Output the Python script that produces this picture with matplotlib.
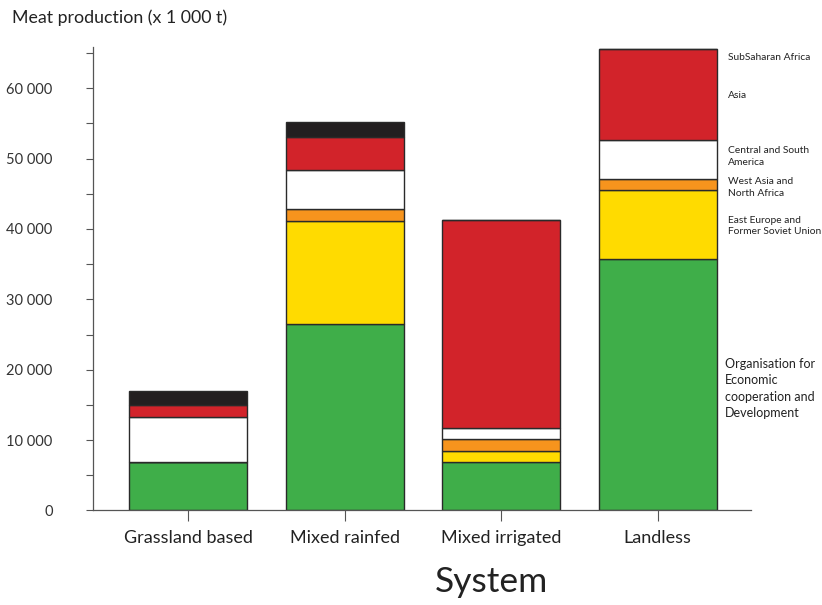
import matplotlib
matplotlib.use("Agg")
import matplotlib.pyplot as plt
import numpy as np
from matplotlib.ticker import FuncFormatter, MultipleLocator

plt.rcParams['font.family'] = ['Lato', 'DejaVu Sans']

# Meat production (x 1 000 t) per system and region
systems = ["Grassland based", "Mixed rainfed", "Mixed irrigated", "Landless"]
oecd = [6850, 26550, 6940, 35740]
east_europe = [0, 14640, 1560, 9770]
west_asia = [0, 1660, 1660, 1560]
central_south_am = [6400, 5500, 1570, 5550]
asia = [1700, 4690, 29560, 12970]
subsaharan = [2030, 2220, 0, 0]

series = [oecd, east_europe, west_asia, central_south_am, asia, subsaharan]
colors = ["#3fae49", "#ffdb00", "#f7941d", "#ffffff", "#d2232a", "#231f20"]

# region labels on the right, with their vertical position (data units)
region_labels = ["Organisation for\nEconomic\ncooperation and\nDevelopment",
                 "East Europe and\nFormer Soviet Union",
                 "West Asia and\nNorth Africa",
                 "Central and South\nAmerica",
                 "Asia",
                 "SubSaharan Africa"]
label_y = [17300, 40400, 45900, 50300, 58900, 64300]

fig = plt.figure(figsize=(8.22, 6.05), dpi=100)
ax = fig.add_axes([0.1131, 0.1562, 0.8005, 0.7666])

x = np.arange(len(systems))
bottom = np.zeros(len(systems))
for vals, col in zip(series, colors):
    ax.bar(x, vals, width=0.754, bottom=bottom, color=col,
           edgecolor="#2a2a2a", linewidth=1.0, zorder=2)
    bottom += np.array(vals)

ax.set_xlim(-0.609, 3.596)
ax.set_ylim(0, 65900)

ax.yaxis.set_major_locator(MultipleLocator(10000))
ax.yaxis.set_minor_locator(MultipleLocator(5000))
ax.yaxis.set_major_formatter(FuncFormatter(lambda v, p: f"{int(v):,}".replace(",", " ")))
ax.tick_params(axis='y', which='both', length=5, width=0.8, color="#555555",
               labelsize=10.5, labelcolor="#333333", pad=24)
ax.tick_params(axis='x', length=8, width=0.8, color="#555555",
               labelsize=13, labelcolor="#222222", pad=6)
ax.set_xticks(x)
ax.set_xticklabels(systems)

for side in ["top", "right"]:
    ax.spines[side].set_visible(False)
for side in ["left", "bottom"]:
    ax.spines[side].set_color("#555555")
    ax.spines[side].set_linewidth(0.9)

# region labels
for lab, yv in zip(region_labels, label_y):
    big = lab.startswith("Organisation")
    fs = 9 if big else 7.4
    ls = 1.45 if big else 1.3
    xpos = 3.43 if big else 3.449
    ax.text(xpos, yv, lab, fontsize=fs, color="#222222", va="center",
            ha="left", linespacing=ls, clip_on=False)

fig.text(0.0146, 0.970, "Meat production (x 1 000 t)", fontsize=12.8,
         color="#222222", ha="left", va="center")
fig.text(0.598, 0.038, "System", fontsize=25.5, color="#222222",
         ha="center", va="center")

fig.savefig("out.png", dpi=100)
